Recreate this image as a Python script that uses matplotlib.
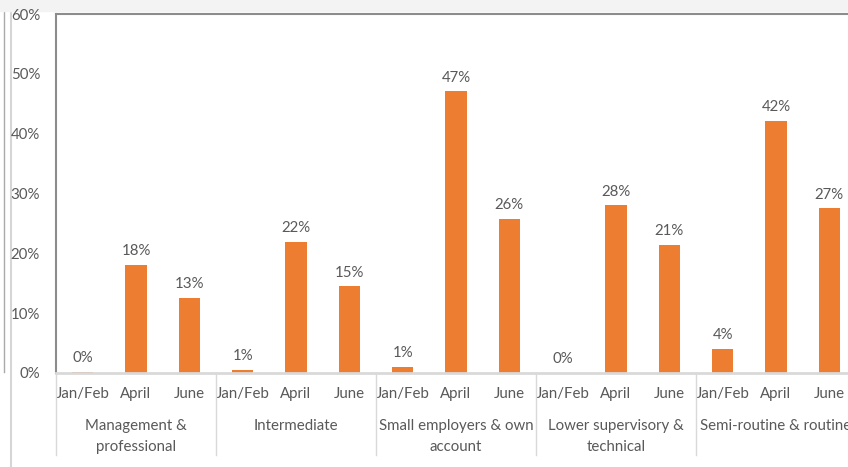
import matplotlib.pyplot as plt
from matplotlib import patches
import matplotlib.transforms as mtransforms

plt.rcParams['font.family'] = ['Lato', 'DejaVu Sans']

groups = ["Management &\nprofessional", "Intermediate", "Small employers & own\naccount",
          "Lower supervisory &\ntechnical", "Semi-routine & routine"]
months = ["Jan/Feb", "April", "June"]
# 値 (%) - 画像から読み取り
values = [
    [0.2, 18.1, 12.6],
    [0.5, 21.9, 14.5],
    [1.0, 47.1, 25.8],
    [0.0, 28.0, 21.4],
    [4.0, 42.2, 27.5],
]
labels = [
    ["0%", "18%", "13%"],
    ["1%", "22%", "15%"],
    ["1%", "47%", "26%"],
    ["0%", "28%", "21%"],
    ["4%", "42%", "27%"],
]
yticks = [0, 10, 20, 30, 40, 50, 60]

BAR_COLOR = "#ED7D31"
TEXT_COLOR = "#595959"
FS = 10.8
W, H = 848, 467

fig = plt.figure(figsize=(W / 100, H / 100), dpi=100, facecolor="white")
# 上部の薄いグレー帯と左の枠線
fig.patches.append(patches.Rectangle((0, (H - 11) / H), 1, 11 / H, transform=fig.transFigure,
                                     color="#f3f3f3", zorder=-5))
fig.lines.append(plt.Line2D([10.5 / W, 10.5 / W], [0, (H - 11) / H], transform=fig.transFigure,
                            color="#d6d6d6", lw=1.5, zorder=-5))
fig.lines.append(plt.Line2D([4 / W, 4 / W], [(H - 372) / H, (H - 11) / H], transform=fig.transFigure,
                            color="#aaaaaa", lw=1, zorder=-5))

ax = fig.add_axes([56 / W, (H - 373) / H, 800 / W, 359 / H])

xs, hs, ls, ticks = [], [], [], []
for g in range(len(groups)):
    for m in range(len(months)):
        xs.append(g * 3 + m)
        hs.append(values[g][m])
        ls.append(labels[g][m])
        ticks.append(months[m])

bars = ax.bar(xs, hs, width=0.4, color=BAR_COLOR, zorder=2)
for b, t in zip(bars, ls):
    ax.text(b.get_x() + b.get_width() / 2, b.get_height() + 1.1, t, ha="center", va="bottom",
            fontsize=FS, color=TEXT_COLOR)

ax.set_xlim(-0.5, 14.5)
ax.set_ylim(0, 60)
ax.set_yticks(yticks)
ax.set_yticklabels([f"{v}%" for v in yticks])
ax.tick_params(axis="y", length=0, pad=11.5, labelsize=FS, labelcolor=TEXT_COLOR)
ax.set_xticks(xs)
ax.set_xticklabels(ticks)
ax.tick_params(axis="x", length=0, pad=10, labelsize=FS, labelcolor=TEXT_COLOR)

ax.spines["right"].set_visible(False)
ax.spines["left"].set_color("#8c8c8c")
ax.spines["left"].set_linewidth(1.5)
ax.spines["top"].set_color("#8c8c8c")
ax.spines["top"].set_linewidth(1.5)
ax.spines["bottom"].set_color("#d9d9d9")
ax.spines["bottom"].set_linewidth(2)

trans = mtransforms.blended_transform_factory(ax.transData, ax.transAxes)
for g in range(len(groups) + 1):
    ax.plot([g * 3 - 0.5] * 2, [0, -(455 - 373) / 359], transform=trans, color="#d9d9d9",
            lw=1, clip_on=False)
for g, name in enumerate(groups):
    ax.text(g * 3 + 1, -(419 - 373) / 359, name, transform=trans, ha="center", va="top",
            fontsize=FS, color=TEXT_COLOR, linespacing=1.65)

fig.savefig("out.png", dpi=100, facecolor="white")
